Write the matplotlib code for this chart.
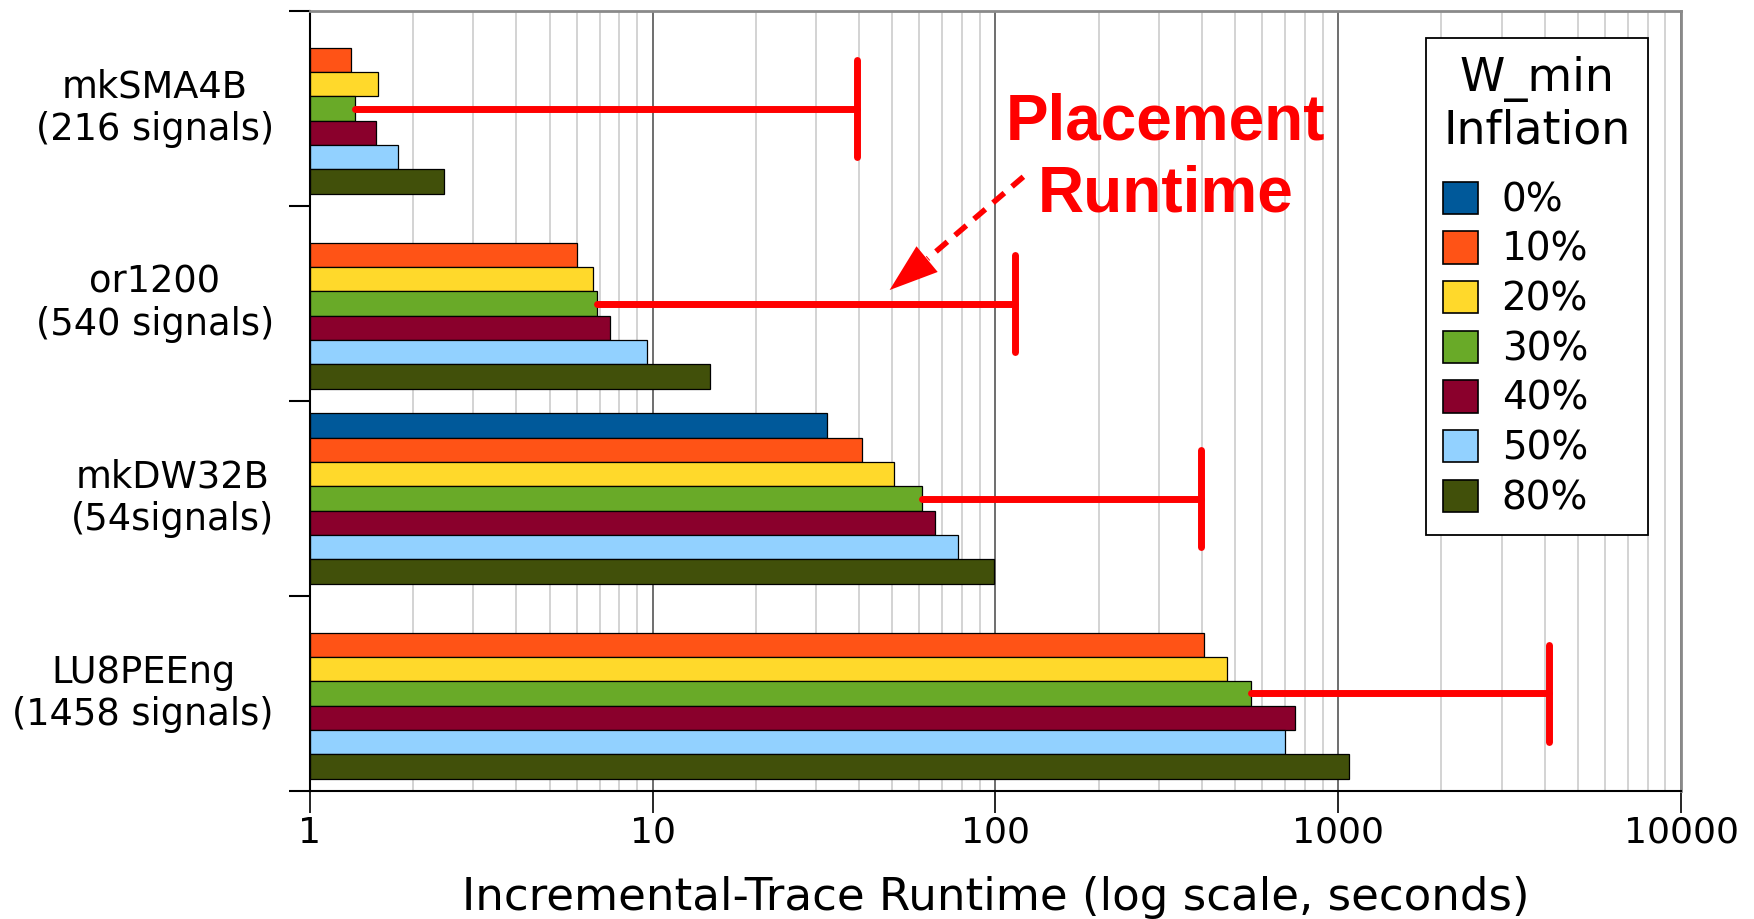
import matplotlib.pyplot as plt
import numpy as np
from matplotlib.patches import Patch
from matplotlib.ticker import LogLocator, NullFormatter

plt.rcParams['font.family'] = ['DejaVu Sans']

designs = ["mkSMA4B\n(216 signals)", "or1200\n(540 signals)",
           "mkDW32B\n(54signals)", "LU8PEEng\n(1458 signals)"]
levels = ["0%", "10%", "20%", "30%", "40%", "50%", "80%"]
colors = ["#00599a", "#ff5316", "#ffd92b", "#69aa28", "#8a002c", "#92d1ff", "#41500a"]

# incremental-trace runtime (s) per design, one list per W_min inflation level
rt_0 = [None, None, 32.2, None]
rt_10 = [1.32, 6.0, 40.9, 405]
rt_20 = [1.58, 6.7, 50.5, 473]
rt_30 = [1.35, 6.9, 60.9, 558]
rt_40 = [1.56, 7.5, 66.7, 748]
rt_50 = [1.81, 9.6, 77.5, 700]
rt_80 = [2.46, 14.7, 99.3, 1077]
series = [rt_0, rt_10, rt_20, rt_30, rt_40, rt_50, rt_80]

# placement runtime (s) per design
placement = [39.5, 114, 397, 4120]

fig = plt.figure(figsize=(17.54, 9.19), dpi=100)
ax = fig.add_axes([0.1767, 0.1393, 0.7817, 0.8487])
ax.set_xscale('log')
ax.set_xlim(1, 10000)
ax.set_ylim(3.5, -0.5)

bh = 0.125
for k, (vals, c) in enumerate(zip(series, colors)):
    idx = [i for i, v in enumerate(vals) if v is not None]
    ys = np.array(idx) - 0.375 + bh * k
    w = np.array([vals[i] for i in idx]) - 1
    ax.barh(ys, w, left=1, height=bh, color=c, edgecolor='black', lw=0.9, zorder=2)

# placement runtime markers, drawn from the 30% bar
for i, p in enumerate(placement):
    ax.plot([rt_30[i], p], [i, i], color='#ff0000', lw=5, solid_capstyle='round', zorder=3)
    ax.plot([p, p], [i - 0.25, i + 0.25], color='#ff0000', lw=5, solid_capstyle='round', zorder=3)

ax.text(0.624, 0.7427, "Placement\nRuntime", transform=ax.transAxes, ha='center', va='baseline',
        multialignment='center', linespacing=1.27, color='#ff0000', fontsize=46,
        fontweight='bold', family='Liberation Sans', zorder=4)
ax.plot([120.6, 63.4], [0.35, 0.77], color='#ff0000', lw=4, dashes=(2.7, 1.8), zorder=4)
ax.annotate('', xy=(49.1, 0.931), xytext=(63.4, 0.77),
            arrowprops=dict(arrowstyle='-|>,head_length=3.5,head_width=1.2', mutation_scale=10,
                            color='#ff0000', lw=0, shrinkA=0, shrinkB=0), zorder=4)

# axes, ticks, grid
ax.set_xticks([1, 10, 100, 1000, 10000], labels=['1', '10', '100', '1000', '10000'])
ax.xaxis.set_minor_locator(LogLocator(base=10, subs=range(2, 10)))
ax.xaxis.set_minor_formatter(NullFormatter())
ax.tick_params(axis='x', which='major', length=16, width=1.2, pad=2, labelsize=26)
ax.tick_params(axis='x', which='minor', length=0)
ax.grid(True, which='major', axis='x', color='#555555', lw=1.2)
ax.grid(True, which='minor', axis='x', color='#d0d0d0', lw=1.3)
ax.set_axisbelow(True)

ax.set_yticks([-0.5, 0.5, 1.5, 2.5, 3.5], labels=[])
ax.set_yticks(range(4), labels=designs, minor=True)
ax.tick_params(axis='y', which='major', length=15, width=1.5)
ax.tick_params(axis='y', which='minor', length=0, pad=26, labelsize=26.5)
for t in ax.get_yticklabels(minor=True):
    t.set_multialignment('center')
    t.set_verticalalignment('center')
    t.set_linespacing(1.2)

for s in ['left', 'bottom']:
    ax.spines[s].set_color('black')
    ax.spines[s].set_linewidth(1.5)
for s in ['top', 'right']:
    ax.spines[s].set_color('#8a8a8a')
    ax.spines[s].set_linewidth(2)

ax.set_xlabel("Incremental-Trace Runtime (log scale, seconds)", fontsize=32.5, labelpad=19)

handles = [Patch(facecolor=c, edgecolor='black', lw=1.2) for c in colors]
leg = ax.legend(handles, levels, title="W_min\nInflation", loc='upper right',
                bbox_to_anchor=(0.9759, 0.9654), fontsize=28, title_fontsize=33,
                frameon=True, fancybox=False, edgecolor='black', framealpha=1,
                handlelength=0.9, handleheight=0.9, handletextpad=0.6,
                labelspacing=0.3, borderpad=0.45, borderaxespad=0, alignment='left')
leg.get_frame().set_linewidth(1.3)
leg.get_title().set_multialignment('center')
leg._legend_box.sep = 20
leg.set_zorder(5)

fig.savefig('out.png', dpi=100)
